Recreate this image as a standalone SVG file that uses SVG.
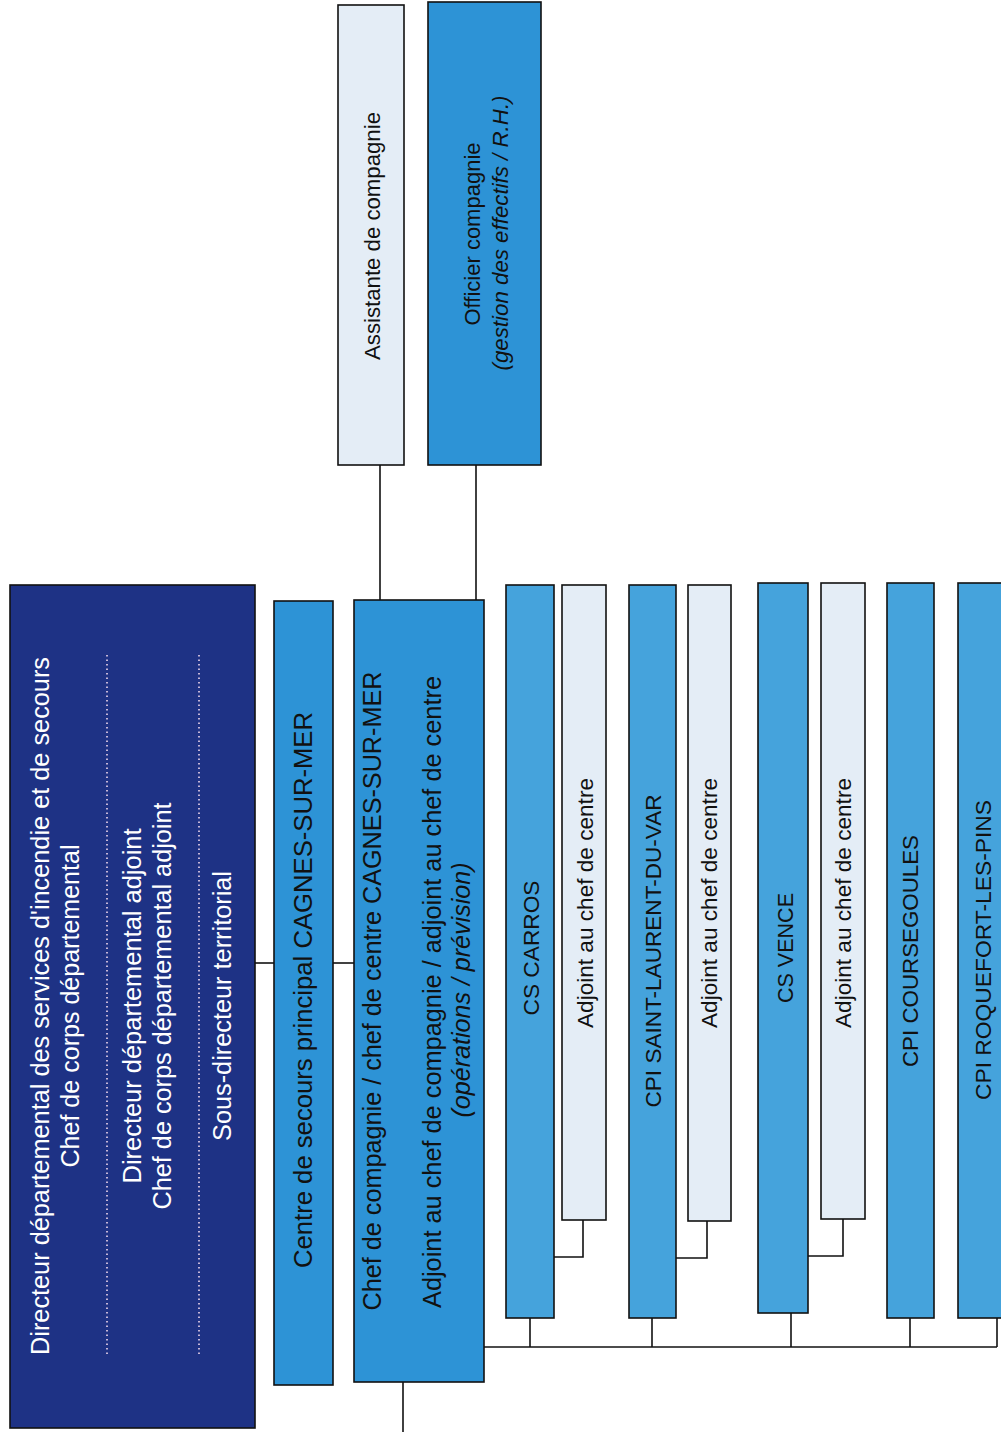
<svg xmlns="http://www.w3.org/2000/svg" width="1001" height="1432" viewBox="0 0 1001 1432">
<style>
.box{stroke:#111;stroke-width:1.6}
.navy{fill:#1e3285}
.mid{fill:#2d93d6}
.br{fill:#45a3dc}
.lt{fill:#e4edf6}
.t{font-family:"Liberation Sans",Arial,sans-serif;text-anchor:middle;dominant-baseline:central;fill:#111}
.w{fill:#fff}
.i{font-style:italic}
.dot{stroke:#f0d8ec;stroke-width:1.6;stroke-dasharray:1.5 3;fill:none}
.conn{stroke:#111;stroke-width:1.6;fill:none}
</style>
<rect width="1001" height="1432" fill="#fff"/>
<g id="connectors">
<path class="conn" d="M255 963H274"/>
<path class="conn" d="M333 963H354"/>
<path class="conn" d="M380 465V600"/>
<path class="conn" d="M476 465V600"/>
<path class="conn" d="M403 1382V1432"/>
<path class="conn" d="M484 1347H997"/>
<path class="conn" d="M530 1318V1347"/>
<path class="conn" d="M652 1318V1347"/>
<path class="conn" d="M791 1313V1347"/>
<path class="conn" d="M910 1318V1347"/>
<path class="conn" d="M997 1318V1347"/>
<path class="conn" d="M583 1220V1257H554"/>
<path class="conn" d="M707 1221V1258H676"/>
<path class="conn" d="M843 1219V1256H808"/>
</g>
<g id="directeur">
<rect class="box navy" x="10" y="585" width="245" height="843"/>
<text class="t w" font-size="25" textLength="698" lengthAdjust="spacingAndGlyphs" transform="translate(40 1006) rotate(-90)">Directeur départemental des services d'incendie et de secours</text>
<text class="t w" font-size="25" textLength="323" lengthAdjust="spacingAndGlyphs" transform="translate(70 1006) rotate(-90)">Chef de corps départemental</text>
<path class="dot" d="M107 655V1355"/>
<text class="t w" font-size="25" textLength="355" lengthAdjust="spacingAndGlyphs" transform="translate(132 1006) rotate(-90)">Directeur départemental adjoint</text>
<text class="t w" font-size="25" textLength="407" lengthAdjust="spacingAndGlyphs" transform="translate(162 1006) rotate(-90)">Chef de corps départemental adjoint</text>
<path class="dot" d="M199 655V1355"/>
<text class="t w" font-size="25" textLength="270" lengthAdjust="spacingAndGlyphs" transform="translate(222 1006) rotate(-90)">Sous-directeur territorial</text>
</g>
<g id="csp">
<rect class="box mid" x="274" y="601" width="59" height="784"/>
<text class="t" font-size="25" textLength="556" lengthAdjust="spacingAndGlyphs" transform="translate(303 990) rotate(-90)">Centre de secours principal CAGNES-SUR-MER</text>
</g>
<g id="chef">
<rect class="box mid" x="354" y="600" width="130" height="782"/>
<text class="t" font-size="25" textLength="639" lengthAdjust="spacingAndGlyphs" transform="translate(372 991) rotate(-90)">Chef de compagnie / chef de centre CAGNES-SUR-MER</text>
<text class="t" font-size="25" textLength="632" lengthAdjust="spacingAndGlyphs" transform="translate(432 992) rotate(-90)">Adjoint au chef de compagnie / adjoint au chef de centre</text>
<text class="t i" font-size="25" textLength="255" lengthAdjust="spacingAndGlyphs" transform="translate(461 990) rotate(-90)">(opérations / prévision)</text>
</g>
<g id="assistante">
<rect class="box lt" x="338" y="5" width="66" height="460"/>
<text class="t" font-size="22" textLength="248" lengthAdjust="spacingAndGlyphs" transform="translate(372 236) rotate(-90)">Assistante de compagnie</text>
</g>
<g id="officier">
<rect class="box mid" x="428" y="2" width="113" height="463"/>
<text class="t" font-size="22" transform="translate(472 234) rotate(-90)">Officier compagnie</text>
<text class="t i" font-size="22" textLength="275" lengthAdjust="spacingAndGlyphs" transform="translate(500 233) rotate(-90)">(gestion des effectifs / R.H.)</text>
</g>
<g id="carros">
<rect class="box br" x="506" y="585" width="48" height="733"/>
<text class="t" font-size="22" textLength="135" lengthAdjust="spacingAndGlyphs" transform="translate(531 948) rotate(-90)">CS CARROS</text>
</g>
<g id="adj-carros">
<rect class="box lt" x="562" y="585" width="44" height="635"/>
<text class="t" font-size="22" textLength="250" lengthAdjust="spacingAndGlyphs" transform="translate(585 903) rotate(-90)">Adjoint au chef de centre</text>
</g>
<g id="saint-laurent">
<rect class="box br" x="629" y="585" width="47" height="733"/>
<text class="t" font-size="22" textLength="313" lengthAdjust="spacingAndGlyphs" transform="translate(653 951) rotate(-90)">CPI SAINT-LAURENT-DU-VAR</text>
</g>
<g id="adj-saint-laurent">
<rect class="box lt" x="688" y="585" width="43" height="636"/>
<text class="t" font-size="22" textLength="250" lengthAdjust="spacingAndGlyphs" transform="translate(709 903) rotate(-90)">Adjoint au chef de centre</text>
</g>
<g id="vence">
<rect class="box br" x="758" y="583" width="50" height="730"/>
<text class="t" font-size="22" textLength="110" lengthAdjust="spacingAndGlyphs" transform="translate(785 948) rotate(-90)">CS VENCE</text>
</g>
<g id="adj-vence">
<rect class="box lt" x="821" y="583" width="44" height="636"/>
<text class="t" font-size="22" textLength="250" lengthAdjust="spacingAndGlyphs" transform="translate(843 903) rotate(-90)">Adjoint au chef de centre</text>
</g>
<g id="coursegoules">
<rect class="box br" x="887" y="583" width="47" height="735"/>
<text class="t" font-size="22" textLength="232" lengthAdjust="spacingAndGlyphs" transform="translate(910 951) rotate(-90)">CPI COURSEGOULES</text>
</g>
<g id="roquefort">
<rect class="box br" x="958" y="583" width="50" height="735"/>
<text class="t" font-size="22" textLength="300" lengthAdjust="spacingAndGlyphs" transform="translate(983 950) rotate(-90)">CPI ROQUEFORT-LES-PINS</text>
</g>
</svg>
